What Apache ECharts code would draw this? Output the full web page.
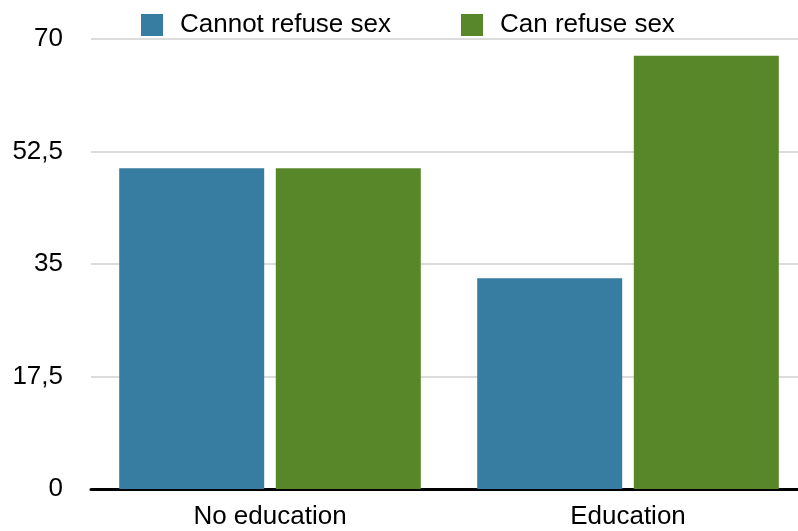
<!DOCTYPE html>
<html><head><meta charset="utf-8">
<script src="https://cdn.jsdelivr.net/npm/echarts@6/dist/echarts.min.js"></script>
<style>html,body{margin:0;padding:0;background:#fff}#c{width:798px;height:531px}</style>
</head><body><div id="c"></div>
<script>
const categories = ["No education", "Education"];
const seriesNames = ["Cannot refuse sex", "Can refuse sex"];
const cannotRefuse = [49.9, 32.8];
const canRefuse = [49.9, 67.4];
const yTicks = [0, 17.5, 35, 52.5, 70];

const chart = echarts.init(document.getElementById('c'), null, {renderer: 'canvas'});
const font = '"Liberation Sans", Helvetica, Arial, sans-serif';
chart.setOption({
  animation: false,
  backgroundColor: '#fff',
  legend: {
    left: 136, top: 7,
    itemWidth: 22, itemHeight: 22, itemGap: 70,
    icon: 'rect',
    textStyle: {fontFamily: font, fontSize: 26, color: '#000', padding: [0, 0, 0, 12]},
    data: seriesNames
  },
  grid: {left: 91, top: 39, width: 716, height: 450, containLabel: false, outerBoundsMode: 'none'},
  xAxis: {
    type: 'category', data: categories,
    axisLine: {lineStyle: {color: '#000', width: 3}},
    axisTick: {show: false},
    axisLabel: {fontFamily: font, fontSize: 26, color: '#000', margin: 15}
  },
  yAxis: {
    type: 'value', min: yTicks[0], max: yTicks[yTicks.length - 1], interval: 17.5,
    axisLine: {show: false}, axisTick: {show: false},
    splitLine: {lineStyle: {color: '#d0d0d0', width: 1.5}},
    axisLabel: {fontFamily: font, fontSize: 26, color: '#000', margin: 28,
      formatter: v => String(v).replace('.', ',')}
  },
  series: [
    {name: seriesNames[0], type: 'bar', data: cannotRefuse, barWidth: 145, barGap: '8%',
     itemStyle: {color: '#367DA1'}},
    {name: seriesNames[1], type: 'bar', data: canRefuse, barWidth: 145,
     itemStyle: {color: '#58872A'}}
  ]
});
</script></body></html>
